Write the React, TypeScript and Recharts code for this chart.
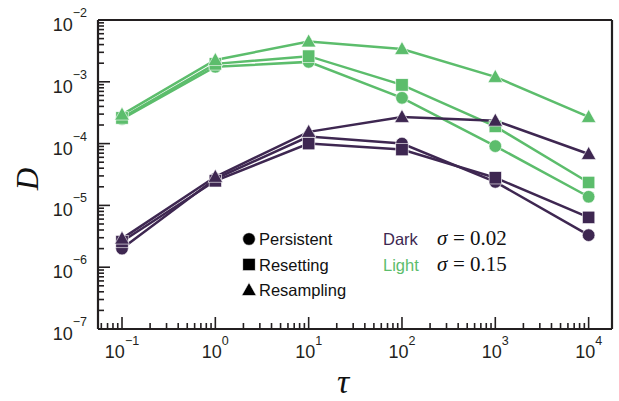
import React from "react"
import { LineChart, Line, XAxis, YAxis, ReferenceLine, Legend, Label } from "recharts"

// tau values (x) and D values (y)
const tau = [0.1, 1, 10, 100, 1000, 10000]

const darkPersistent = [2.0e-6, 2.7e-5, 1.3e-4, 1.0e-4, 2.4e-5, 3.3e-6]
const darkResetting = [2.6e-6, 2.5e-5, 1.0e-4, 8.0e-5, 2.8e-5, 6.4e-6]
const darkResampling = [2.9e-6, 2.9e-5, 1.55e-4, 2.7e-4, 2.35e-4, 6.8e-5]
const lightPersistent = [2.5e-4, 1.75e-3, 2.1e-3, 5.5e-4, 9.1e-5, 1.38e-5]
const lightResetting = [2.6e-4, 1.95e-3, 2.6e-3, 8.9e-4, 1.9e-4, 2.35e-5]
const lightResampling = [2.95e-4, 2.25e-3, 4.5e-3, 3.4e-3, 1.2e-3, 2.7e-4]

const legendShapes = ["Persistent", "Resetting", "Resampling"]
const legendGroups = [
  { name: "Dark", sigma: "0.02" },
  { name: "Light", sigma: "0.15" },
]

const xDomain = [0.0553, 17800]
const yDomain = [1e-7, 1e-2]
const xDecades = [-1, 0, 1, 2, 3, 4]
const yDecades = [-7, -6, -5, -4, -3, -2]

const DARK = "#3e2751"
const LIGHT = "#5cbd6c"
const AXIS = "#231f20"
const SANS = "'Liberation Sans', Arial, Helvetica, sans-serif"
const SERIF = "'Liberation Serif', 'Times New Roman', serif"

// major + minor ticks inside the domain
const logTicks = (decades: number[], lo: number, hi: number) => {
  const out: number[] = []
  for (let d = decades[0] - 1; d <= decades[decades.length - 1]; d++) {
    for (let m = 1; m <= 9; m++) {
      const v = parseFloat((m * Math.pow(10, d)).toPrecision(6))
      if (v >= lo && v <= hi) out.push(v)
    }
  }
  return out
}
const xTicks = logTicks(xDecades, xDomain[0], xDomain[1])
const yTicks = logTicks(yDecades, yDomain[0], yDomain[1])

const data = tau.map((t, i) => ({
  tau: t,
  darkPersistent: darkPersistent[i],
  darkResetting: darkResetting[i],
  darkResampling: darkResampling[i],
  lightPersistent: lightPersistent[i],
  lightResetting: lightResetting[i],
  lightResampling: lightResampling[i],
}))

const exponentOf = (v: number) => {
  const l = Math.log10(v)
  const e = Math.round(l)
  return Math.abs(l - e) < 1e-6 ? e : null
}
const expText = (e: number) => (e < 0 ? "\u2212" + Math.abs(e) : String(e))

const XTick = (props: any) => {
  const { x, y, payload } = props
  const e = exponentOf(payload.value)
  return (
    <g>
      <line x1={x} x2={x} y1={y} y2={y - (e !== null ? 12 : 6)} stroke={AXIS} strokeWidth={1.6} />
      {e !== null && (
        <text x={x} y={y + 29} textAnchor="middle" fontFamily={SANS} fontSize={18} fill={AXIS}>
          10<tspan dy={-13} fontSize={12.5}>{expText(e)}</tspan>
        </text>
      )}
    </g>
  )
}

const YTick = (props: any) => {
  const { x, y, payload } = props
  const e = exponentOf(payload.value)
  return (
    <g>
      <line x1={x} x2={x + (e !== null ? 12 : 6)} y1={y} y2={y} stroke={AXIS} strokeWidth={1.6} />
      {e !== null && (
        <text x={x - 11} y={y + 11} textAnchor="end" fontFamily={SANS} fontSize={18} fill={AXIS}>
          10<tspan dy={-14} fontSize={12.5}>{expText(e)}</tspan>
        </text>
      )}
    </g>
  )
}

const shapeEl = (shape: string, cx: number, cy: number, color: string, key?: string) => {
  if (shape === "circle") return <circle key={key} cx={cx} cy={cy} r={6.3} fill={color} stroke="#fff" strokeWidth={0.6} />
  if (shape === "square") return <rect key={key} x={cx - 6.2} y={cy - 6.2} width={12.4} height={12.4} fill={color} stroke="#fff" strokeWidth={0.6} />
  return (
    <polygon
      key={key}
      points={`${cx},${cy - 7.5} ${cx + 7.3},${cy + 5.5} ${cx - 7.3},${cy + 5.5}`}
      fill={color}
      stroke="#fff"
      strokeWidth={0.6}
    />
  )
}

const marker = (shape: string, color: string, id: string) => (p: any) => {
  const key = `${id}-${p.index}`
  if (p.cx == null || p.cy == null) return <g key={key} />
  return shapeEl(shape, p.cx, p.cy, color, key)
}

const LegendBox = () => {
  const shapes = ["circle", "square", "triangle"]
  return (
    <svg width={300} height={80} style={{ overflow: "visible" }}>
      {legendShapes.map((name, i) => (
        <g key={name}>
          {shapeEl(shapes[i], 11, 11 + i * 25.5, "#000")}
          <text x={21} y={17 + i * 25.5} fontFamily={SANS} fontSize={16.5} fill="#111">
            {name}
          </text>
        </g>
      ))}
      {legendGroups.map((g, i) => (
        <g key={g.name}>
          <text x={145} y={17 + i * 25.5} fontFamily={SANS} fontSize={16.5} fill={i === 0 ? DARK : LIGHT}>
            {g.name}
          </text>
          <text x={199} y={17 + i * 25.5} fontFamily={SERIF} fontSize={21} fontStyle="italic" fill="#111">
            σ
          </text>
          <text x={215} y={17 + i * 25.5} fontFamily={SERIF} fontSize={21} fill="#111">
            =
          </text>
          <text x={232} y={17 + i * 25.5} fontFamily={SERIF} fontSize={21} fill="#111">
            {g.sigma}
          </text>
        </g>
      ))}
    </svg>
  )
}

const series = [
  { key: "lightPersistent", shape: "circle", color: LIGHT },
  { key: "lightResetting", shape: "square", color: LIGHT },
  { key: "lightResampling", shape: "triangle", color: LIGHT },
  { key: "darkPersistent", shape: "circle", color: DARK },
  { key: "darkResetting", shape: "square", color: DARK },
  { key: "darkResampling", shape: "triangle", color: DARK },
]

export default function App() {
  return (
    <div style={{ position: "absolute", left: 0, top: 0, background: "#fff" }}>
      <LineChart width={619} height={401} data={data} margin={{ top: 20, right: 7, bottom: 71, left: 97 }}>
        <XAxis
          dataKey="tau"
          type="number"
          scale="log"
          domain={xDomain}
          ticks={xTicks}
          interval={0}
          height={1}
          tickSize={0}
          tickMargin={0}
          tickLine={false}
          tick={<XTick />}
          axisLine={{ stroke: AXIS, strokeWidth: 2.2 }}
          allowDataOverflow
        >
          <Label
            content={(p: any) => (
              <text
                x={343}
                y={393}
                textAnchor="middle"
                fontFamily={SERIF}
                fontStyle="italic"
                fontSize={34}
                fill="#111"
              >
                τ
              </text>
            )}
          />
        </XAxis>
        <YAxis
          type="number"
          scale="log"
          domain={yDomain}
          ticks={yTicks}
          interval={0}
          width={1}
          tickSize={0}
          tickMargin={0}
          tickLine={false}
          tick={<YTick />}
          axisLine={{ stroke: AXIS, strokeWidth: 2.2 }}
          allowDataOverflow
        >
          <Label
            content={() => (
              <text
                x={38}
                y={179}
                transform="rotate(-90 38 179)"
                textAnchor="middle"
                fontFamily={SERIF}
                fontStyle="italic"
                fontSize={31}
                fill="#111"
              >
                D
              </text>
            )}
          />
        </YAxis>
        <ReferenceLine y={yDomain[1]} stroke={AXIS} strokeWidth={2.2} />
        <ReferenceLine x={xDomain[1]} stroke={AXIS} strokeWidth={2.2} />
        {series.map((s) => (
          <Line
            key={s.key}
            dataKey={s.key}
            type="linear"
            stroke={s.color}
            strokeWidth={2.5}
            dot={marker(s.shape, s.color, s.key)}
            activeDot={false}
            isAnimationActive={false}
          />
        ))}
        <Legend
          layout="vertical"
          align="center"
          verticalAlign="middle"
          content={() => <LegendBox />}
          wrapperStyle={{ left: 238, top: 228, width: 300, height: 80 }}
        />
      </LineChart>
    </div>
  )
}
